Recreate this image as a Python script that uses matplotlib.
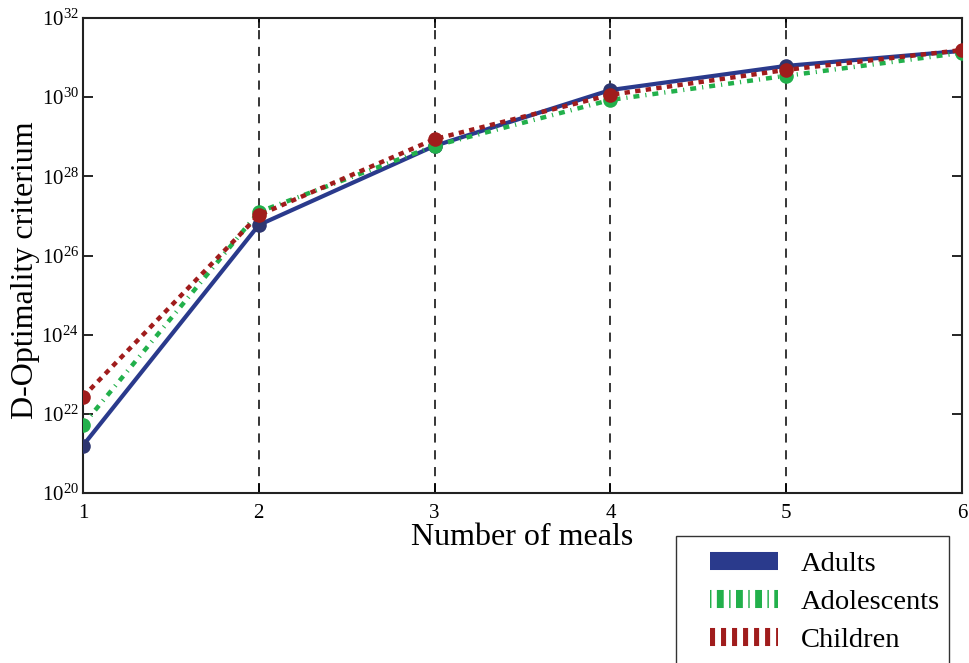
import matplotlib
matplotlib.use("Agg")
import matplotlib.pyplot as plt
from matplotlib.lines import Line2D
from matplotlib.patches import Rectangle
import numpy as np

plt.rcParams['font.family'] = ['Liberation Serif', 'DejaVu Serif']
plt.rcParams['mathtext.fontset'] = 'custom'
plt.rcParams['mathtext.rm'] = 'Liberation Serif'
plt.rcParams['mathtext.it'] = 'Liberation Serif:italic'

meals = [1, 2, 3, 4, 5, 6]
adults_log = [21.2, 26.77, 28.77, 30.18, 30.79, 31.17]
adolescents_log = [21.72, 27.10, 28.77, 29.93, 30.54, 31.12]
children_log = [22.43, 27.02, 28.94, 30.06, 30.69, 31.19]
series_names = ["Adults", "Adolescents", "Children"]

adults = [10 ** v for v in adults_log]
adolescents = [10 ** v for v in adolescents_log]
children = [10 ** v for v in children_log]

W, H = 970, 663
fig = plt.figure(figsize=(W/100, H/100), dpi=100)
ax = fig.add_axes([83/W, 1-493/H, (962-83)/W, (493-18)/H])

for xv in [2, 3, 4, 5]:
    ax.axvline(xv, color='black', lw=1.1, linestyle=(0, (6, 5)), zorder=1)

navy = '#2a3a8c'
green = '#22b04b'
red = '#a01c1c'

ax.plot(meals, adults, color=navy, lw=3, solid_capstyle='butt', zorder=3,
        marker='o', markersize=10.5, markerfacecolor='#2e3670', markeredgecolor='none')
ax.plot(meals, adolescents, color=green, lw=3.2, linestyle=(0, (1.35, 1.35, 0.25, 1.35)),
        zorder=4, marker='o', markersize=10.5, markeredgecolor='none')
ax.plot(meals, children, color=red, lw=3.2, linestyle=(0, (1.2, 1.2)),
        zorder=5, marker='o', markersize=10.5, markeredgecolor='none')

ax.set_yscale('log')
ax.set_ylim(1e20, 1e32)
ax.set_xlim(1, 6)
ax.set_xticks(meals)
ax.set_yticks([10.0 ** k for k in range(20, 33, 2)])
ax.set_yticklabels([r'$10^{%d}$' % k for k in range(20, 33, 2)])
ax.yaxis.set_minor_locator(matplotlib.ticker.NullLocator())
ax.tick_params(axis='both', direction='in', length=7, width=1.2, labelsize=15,
               top=True, right=True)
ax.tick_params(axis='y', pad=3)
ax.tick_params(axis='x', pad=8)
for s in ax.spines.values():
    s.set_linewidth(1.5)
    s.set_color('#222222')

ax.set_xlabel('Number of meals', fontsize=23, labelpad=0)
ax.set_ylabel('D-Optimality criterium', fontsize=23)
ax.yaxis.set_label_coords(-0.049, 0.469)

# legend frame drawn separately (extends past the bottom edge)
fig.patches.append(Rectangle((676/W, -0.05), (949-676)/W, 0.05 + (H-536)/H,
                             transform=fig.transFigure, fill=False,
                             edgecolor='#333333', lw=1.0))

h1 = Line2D([], [], color=navy, lw=13, solid_capstyle='butt')
h2 = Line2D([], [], color=green, lw=13, linestyle=(0, (0.08, 0.3, 0.38, 0.3)))
h3 = Line2D([], [], color=red, lw=13, linestyle=(0, (0.28, 0.33)))
leg = fig.legend([h1, h2, h3], series_names, loc='upper left',
                 bbox_to_anchor=(710/W, 1-551/H), fontsize=20.5, frameon=False,
                 handlelength=2.4, borderpad=0.0, labelspacing=0.43,
                 handletextpad=0.8, borderaxespad=0)

fig.savefig('out.png', dpi=100)
